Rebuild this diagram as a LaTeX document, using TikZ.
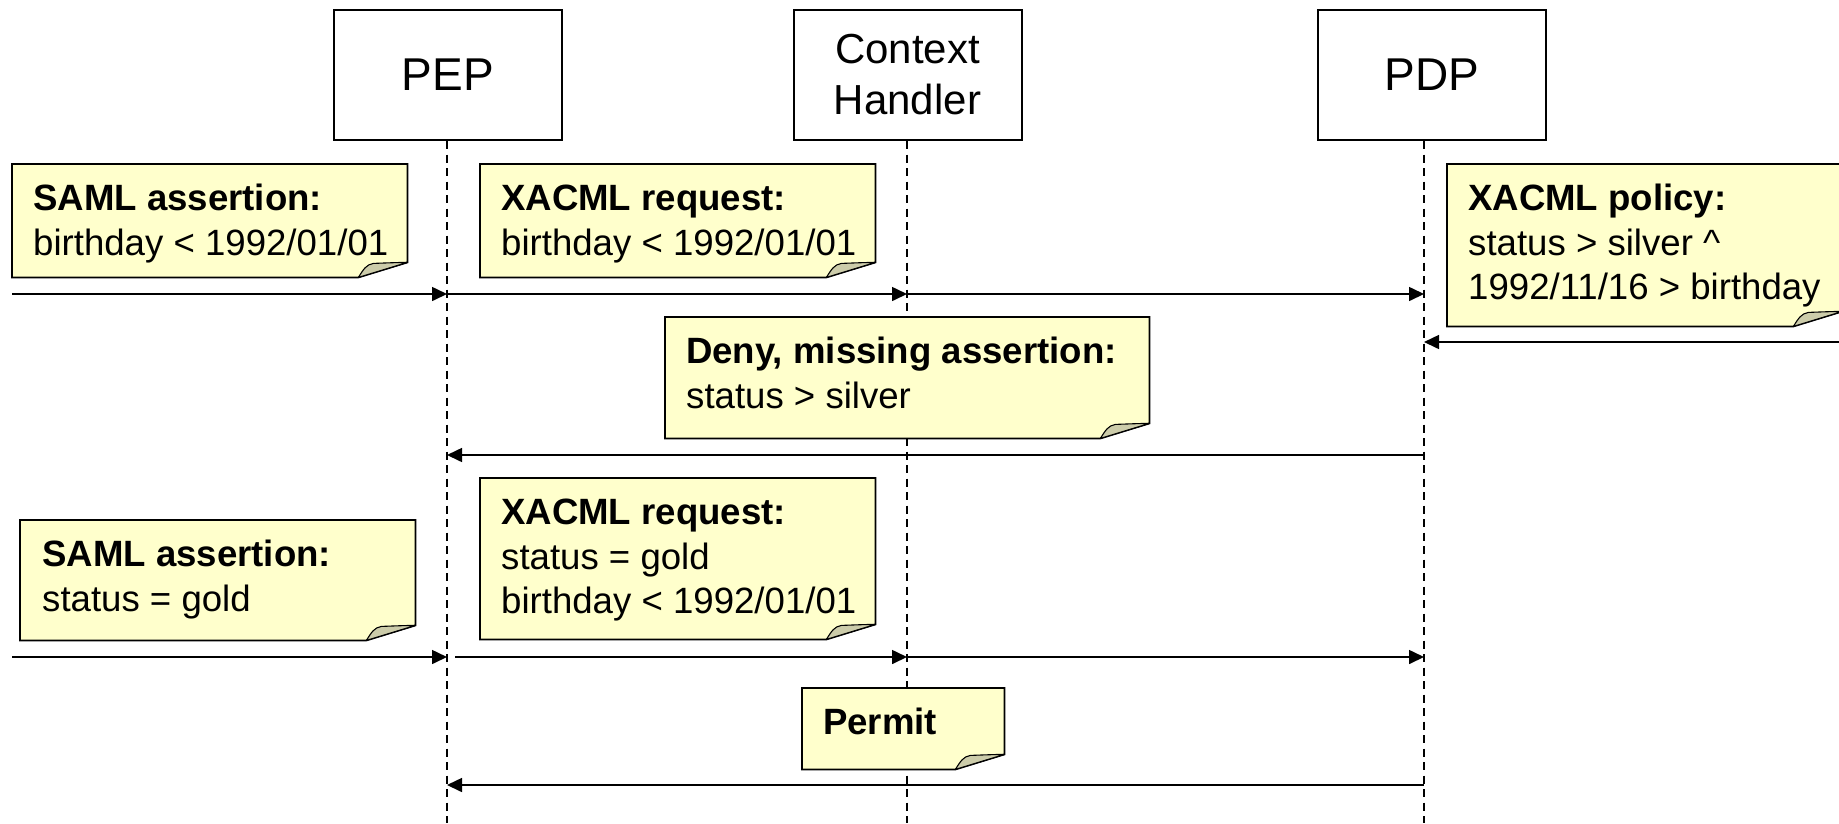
\documentclass[tikz,border=0pt]{standalone}
\usepackage{fontspec}
\setmainfont{Liberation Sans}
\usetikzlibrary{arrows.meta,calc}

\pgfdeclarelayer{lifelines}
\pgfdeclarelayer{paper}
\pgfsetlayers{lifelines,paper,main}

\definecolor{notefill}{RGB}{255,255,204}
\definecolor{flapfill}{RGB}{204,204,170}

\tikzset{
  actor/.style={draw=black, line width=2pt, fill=white, minimum width=228pt,
    minimum height=130pt, inner sep=0pt, align=center},
  lifeline/.style={line width=1.6pt, dash pattern=on 8pt off 5.5pt},
  msg/.style={line width=1.6pt, -{Triangle[length=15pt,width=14pt]}},
  notebox/.style={draw=none, fill=none, inner sep=0pt, anchor=north west},
  noteedge/.style={fill=notefill, draw=black, line width=1.8pt, line join=miter},
  flapedge/.style={fill=flapfill, draw=black, line width=1.1pt, line join=round},
  notetext/.style={inner sep=0pt, anchor=north west, align=left,
    font=\fontsize{36.6}{44.5}\selectfont},
}

% folded sticky note drawn around a named rectangle node
\newcommand\foldednote[1]{%
  \filldraw[noteedge] (#1.north west) -- (#1.north east)
    -- ([yshift=15pt]#1.south east) -- ([xshift=-49pt]#1.south east)
    -- (#1.south west) -- cycle;
  \filldraw[flapedge] ([xshift=-49pt]#1.south east)
    .. controls ([xshift=-44pt,yshift=8pt]#1.south east) and ([xshift=-41pt,yshift=13pt]#1.south east)
    .. ([xshift=-34pt,yshift=14pt]#1.south east)
    .. controls ([xshift=-20pt,yshift=14.5pt]#1.south east) and ([xshift=-8pt,yshift=15pt]#1.south east)
    .. ([yshift=15pt]#1.south east) -- cycle;
}
\newcommand\firstline{\rule{0pt}{28pt}}

\begin{document}
\begin{tikzpicture}[x=1pt, y=-1pt]
  \useasboundingbox (0,0) rectangle (1839,823);
  \clip (0,0) rectangle (1839,823);

  % participants
  \node[actor, font=\fontsize{46}{50}\selectfont] (pep) at (448,75) {PEP};
  \node[actor, font=\fontsize{42}{51}\selectfont] (ch) at (907.5,75) {Context\\Handler};
  \node[actor, font=\fontsize{46}{50}\selectfont] (pdp) at (1432,75) {PDP};

  % lifeline ends
  \coordinate (pepTop) at ([xshift=-1pt]pep.south);
  \coordinate (chTop) at ([xshift=-0.5pt]ch.south);
  \coordinate (pdpTop) at ([xshift=-8pt]pdp.south);
  \coordinate (pepBot) at (pepTop |- 0,823);
  \coordinate (chBot) at (chTop |- 0,823);
  \coordinate (pdpBot) at (pdpTop |- 0,823);

  \begin{pgfonlayer}{lifelines}
    \draw[lifeline] (pepTop) -- (pepBot);
    \draw[lifeline] (chTop) -- (chBot);
    \draw[lifeline] (pdpTop) -- (pdpBot);
  \end{pgfonlayer}

  % message rows on the lifelines
  \foreach \r/\y in {A/294, B/342, C/455, D/657, E/785} {
    \coordinate (pep\r) at (pepTop |- 0,\y);
    \coordinate (ch\r) at (chTop |- 0,\y);
    \coordinate (pdp\r) at (pdpTop |- 0,\y);
  }
  \coordinate (userA) at (12,294);
  \coordinate (userD) at (12,657);
  \coordinate (storeB) at (1839,342);

  % notes
  \begin{pgfonlayer}{paper}
    \node[notebox, minimum width=395pt, minimum height=113pt] (samlA) at (12,164) {};
    \node[notebox, minimum width=395pt, minimum height=113pt] (reqA) at (480,164) {};
    \node[notebox, minimum width=395pt, minimum height=162pt] (policy) at (1447,164) {};
    \node[notebox, minimum width=484pt, minimum height=121pt] (deny) at (665,317) {};
    \node[notebox, minimum width=395pt, minimum height=120pt] (samlB) at (20,520) {};
    \node[notebox, minimum width=395pt, minimum height=161pt] (reqB) at (480,478) {};
    \node[notebox, minimum width=202pt, minimum height=81pt] (permit) at (802,688) {};
    \foreach \n in {samlA,reqA,policy,deny,samlB,reqB,permit} {\foldednote{\n}}
  \end{pgfonlayer}

  \node[notetext] (samlAtext) at ([shift={(21pt,-18.5pt)}]samlA.north west)
    {\firstline\textbf{SAML assertion:}\\birthday < 1992/01/01};
  \node[notetext] (reqAtext) at ([shift={(21pt,-18.5pt)}]reqA.north west)
    {\firstline\textbf{XACML request:}\\birthday < 1992/01/01};
  \node[notetext] (policytext) at ([shift={(21pt,-18.5pt)}]policy.north west)
    {\firstline\textbf{XACML policy:}\\status > silver \^{}\\1992/11/16 > birthday};
  \node[notetext] (denytext) at ([shift={(21pt,-18.5pt)}]deny.north west)
    {\firstline\textbf{Deny, missing assertion:}\\status > silver};
  \node[notetext] (samlBtext) at ([shift={(22pt,-18.5pt)}]samlB.north west)
    {\firstline\textbf{SAML assertion:}\\status = gold};
  \node[notetext] (reqBtext) at ([shift={(21pt,-18.5pt)}]reqB.north west)
    {\firstline\textbf{XACML request:}\\status = gold\\birthday < 1992/01/01};
  \node[notetext] (permittext) at ([shift={(21pt,-18.5pt)}]permit.north west)
    {\firstline\textbf{Permit}};

  % messages
  \draw[msg] (userA) -- (pepA);
  \draw[msg] (pepA) -- (chA);
  \draw[msg] (chA) -- (pdpA);
  \draw[msg] (storeB) -- (pdpB);
  \draw[msg] (pdpC) -- (pepC);
  \draw[msg] (userD) -- (pepD);
  \draw[msg, shorten <=8pt] (pepD) -- (chD);
  \draw[msg] (chD) -- (pdpD);
  \draw[msg] (pdpE) -- (pepE);
\end{tikzpicture}
\end{document}
